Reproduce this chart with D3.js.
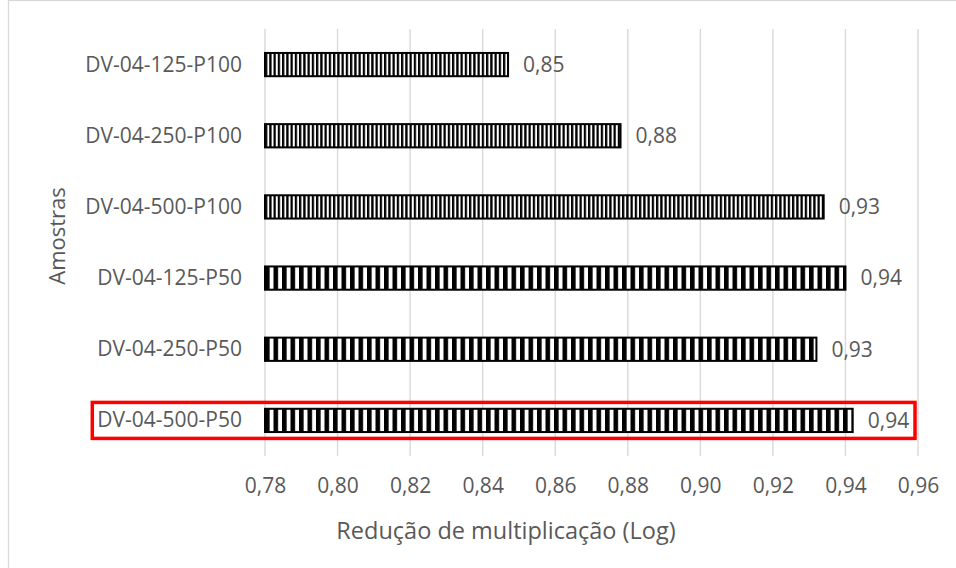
<!DOCTYPE html>
<html>
<head>
<meta charset="utf-8">
<script src="https://cdn.jsdelivr.net/npm/d3@7"></script>
<style>
    html, body { margin: 0; padding: 0; background: #fff; }
    svg { display: block; font-family: "Open Sans", sans-serif; }
</style>
</head>
<body>
<svg id="chart" width="956" height="568"></svg>
<script>
// categories, top to bottom
const amostras = ["DV-04-125-P100", "DV-04-250-P100", "DV-04-500-P100", "DV-04-125-P50", "DV-04-250-P50", "DV-04-500-P50"];
// redução de multiplicação (Log)
const reducao = [0.847, 0.878, 0.934, 0.940, 0.932, 0.942];
// bar fill pattern per category
const padrao = ["fino", "fino", "fino", "largo", "largo", "largo"];
// x ticks
const xTicks = [0.78, 0.80, 0.82, 0.84, 0.86, 0.88, 0.90, 0.92, 0.94, 0.96];
const destaque = "DV-04-500-P50";

const svg = d3.select("#chart");
const plot = {left: 265, right: 918, top: 29, bottom: 456};
const textColor = "#595959";
const gridColor = "#d9d9d9";
const fmt = v => d3.format(".2f")(v).replace(".", ",");

// borda do gráfico
svg.append("rect")
    .attr("x", 8.5).attr("y", 0.5)
    .attr("width", 1200).attr("height", 1200)
    .attr("fill", "none").attr("stroke", gridColor).attr("stroke-width", 1.3);

// padrões listrados
const defs = svg.append("defs");
[["fino", 4.25, 2.3], ["largo", 8.5, 4.6]].forEach(([id, w, black]) => {
    const p = defs.append("pattern")
        .attr("id", "pat-" + id)
        .attr("patternUnits", "userSpaceOnUse")
        .attr("x", plot.left).attr("y", 0)
        .attr("width", w).attr("height", 10);
    p.append("rect").attr("width", w).attr("height", 10).attr("fill", "#fff");
    p.append("rect").attr("width", black).attr("height", 10).attr("fill", "#000");
});

// escalas
const x = d3.scaleLinear().domain([0.78, 0.96]).range([plot.left, plot.right]);
const y = d3.scaleBand().domain(amostras).range([plot.top, plot.bottom]).paddingInner(0.673).paddingOuter(0.3365);

// grade vertical
svg.append("g")
    .selectAll("line")
    .data(xTicks)
    .enter().append("line")
    .attr("x1", d => x(d)).attr("x2", d => x(d))
    .attr("y1", plot.top).attr("y2", plot.bottom)
    .attr("stroke", gridColor).attr("stroke-width", 1.4);

// eixo x (rótulos)
const axisX = svg.append("g")
    .attr("transform", `translate(0,${plot.bottom})`)
    .call(d3.axisBottom(x).tickValues(xTicks).tickFormat(fmt).tickSize(0).tickPadding(22));
axisX.select(".domain").remove();
axisX.selectAll("text")
    .attr("fill", textColor)
    .style("font-size", "21px")
    .style("font-family", "'Open Sans', sans-serif");

// eixo y (rótulos)
const axisY = svg.append("g")
    .attr("transform", `translate(${plot.left},0)`)
    .call(d3.axisLeft(y).tickSize(0).tickPadding(23));
axisY.select(".domain").remove();
axisY.selectAll("text")
    .attr("fill", textColor)
    .attr("dy", "0.33em")
    .style("font-size", "21px")
    .style("font-family", "'Open Sans', sans-serif");

// barras
svg.append("g")
    .selectAll("rect")
    .data(amostras)
    .enter().append("rect")
    .attr("x", x(0.78))
    .attr("y", d => y(d))
    .attr("width", (d, i) => x(reducao[i]) - x(0.78))
    .attr("height", y.bandwidth())
    .attr("fill", (d, i) => `url(#pat-${padrao[i]})`)
    .attr("stroke", "#000")
    .attr("stroke-width", 2);

// rótulos de dados
svg.append("g")
    .selectAll("text")
    .data(amostras)
    .enter().append("text")
    .attr("x", (d, i) => x(reducao[i]) + 15)
    .attr("y", d => y(d) + y.bandwidth() / 2)
    .attr("dy", "0.35em")
    .attr("fill", textColor)
    .style("font-size", "21px")
    .text((d, i) => fmt(reducao[i]));

// destaque em vermelho
const cy = y(destaque) + y.bandwidth() / 2;
svg.append("rect")
    .attr("x", 92.3)
    .attr("y", cy - 18)
    .attr("width", x(0.96) - 3 - 92.3)
    .attr("height", 36)
    .attr("fill", "none")
    .attr("stroke", "#ff0000")
    .attr("stroke-width", 3.5);

// títulos dos eixos
svg.append("text")
    .attr("x", 506).attr("y", 539)
    .attr("text-anchor", "middle")
    .attr("fill", textColor)
    .style("font-size", "23.5px")
    .text("Redução de multiplicação (Log)");

svg.append("text")
    .attr("transform", "translate(65,236) rotate(-90)")
    .attr("text-anchor", "middle")
    .attr("fill", textColor)
    .style("font-size", "22px")
    .text("Amostras");
</script>
</body>
</html>
